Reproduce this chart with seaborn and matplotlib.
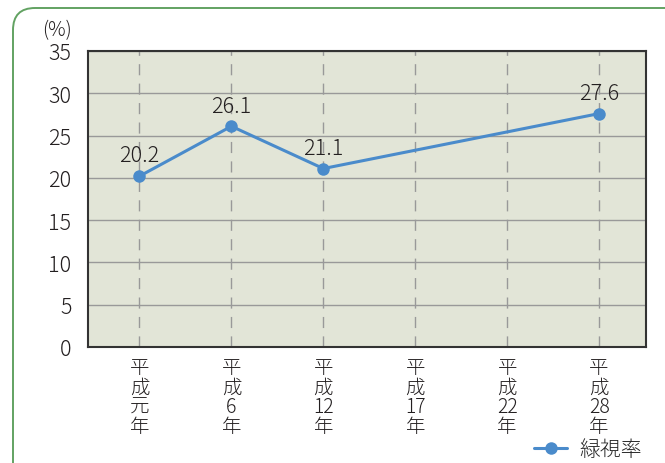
import pandas as pd
import matplotlib.pyplot as plt
import seaborn as sns
from matplotlib.patches import FancyBboxPatch

# data
years = ["平成元年", "平成6年", "平成12年", "平成17年", "平成22年", "平成28年"]
tick_labels = ["平\n成\n元\n年", "平\n成\n6\n年", "平\n成\n12\n年",
               "平\n成\n17\n年", "平\n成\n22\n年", "平\n成\n28\n年"]
green_view = [20.2, 26.1, 21.1, None, None, 27.6]
series_name = "緑視率"

sns.set_style("white")
plt.rcParams["font.family"] = ["Noto Sans CJK JP", "DejaVu Sans"]
plt.rcParams["font.weight"] = "light"

df = pd.DataFrame({"year": years, "pos": range(len(years)), "value": green_view})
df = df.dropna(subset=["value"])

fig = plt.figure(figsize=(6.65, 4.64), dpi=100)
ax = fig.add_axes([88 / 665, 1 - 348 / 464, (646 - 88) / 665, (348 - 52) / 464])

# rounded frame around the panel
frame = FancyBboxPatch((0.13, -0.6), 7.5, 5.15,
                       boxstyle="round,pad=0,rounding_size=0.22",
                       transform=fig.dpi_scale_trans, facecolor="none",
                       edgecolor="#62a262", linewidth=1.4, zorder=0)
fig.patches.append(frame)

ax.set_facecolor("#e2e5d7")
blue = "#4a8bcb"
sns.lineplot(data=df, x="pos", y="value", ax=ax, color=blue, linewidth=2.2,
             marker="o", markersize=9, markeredgewidth=0, label=series_name,
             legend=False, zorder=3)

for _, r in df.iterrows():
    ax.annotate(f"{r['value']:.1f}", (r["pos"], r["value"]), xytext=(0, 7),
                textcoords="offset points", ha="center", va="bottom",
                fontsize=15.5, color="#231f20")

ax.set_xlim(-0.56, 5.51)
ax.set_ylim(0, 35)
ax.set_yticks(range(0, 36, 5))
ax.set_xticks(range(len(years)))
ax.set_xticklabels(tick_labels, fontsize=14, linespacing=0.92, va="top")
ax.tick_params(axis="y", labelsize=15.5, length=4, color="#999999", pad=8,
               labelcolor="#231f20")
ax.tick_params(axis="x", length=0, pad=7, labelcolor="#231f20")
ax.set_xlabel("")
ax.set_ylabel("")

ax.grid(axis="y", color="#999999", linewidth=1, linestyle="-")
for p in range(len(years)):
    ax.axvline(p, color="#999999", linewidth=1, linestyle=(0, (8, 6)), zorder=1)
ax.set_axisbelow(True)
for s in ax.spines.values():
    s.set_color("#333333")
    s.set_linewidth(1.5)

fig.text(42 / 665, 1 - 31 / 464, "(%)", fontsize=14, color="#231f20", va="center")

handles, labels = ax.get_legend_handles_labels()
fig.legend(handles, labels, loc="center right", bbox_to_anchor=(0.966, 1 - 450 / 464),
           frameon=False, fontsize=15, handlelength=1.6, handletextpad=0.6,
           borderpad=0, borderaxespad=0)

fig.savefig("out.png", dpi=100)
